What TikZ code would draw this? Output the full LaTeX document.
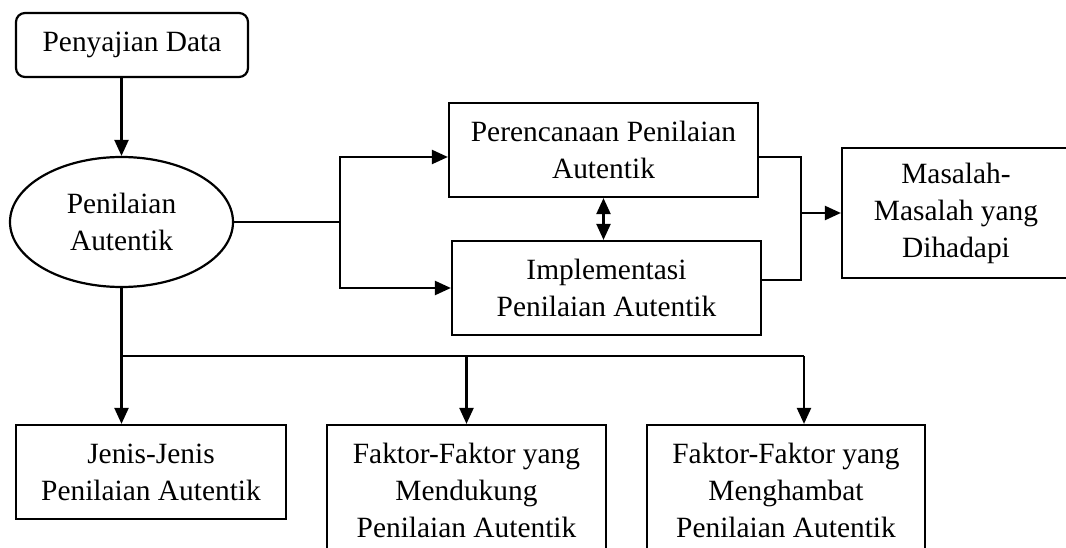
\documentclass[tikz,border=0pt]{standalone}
\usepackage{fontspec}
\setmainfont{Liberation Serif}
\usetikzlibrary{shapes.geometric, arrows.meta}

\begin{document}
\begin{tikzpicture}[x=1pt, y=-1pt, line width=2.2pt, >={Triangle[length=16pt, width=14pt]},
    every node/.style={draw, inner sep=0pt, align=center, font=\fontsize{29.4pt}{37pt}\selectfont},
    kotak/.style={rectangle, minimum width=#1, minimum height=94pt}]
            \useasboundingbox (0,0) rectangle (1066,548);
            \clip (0,0) rectangle (1066,548);
            \node [rectangle, rounded corners=9pt, minimum width=232pt, minimum height=64pt] (data) at (132,45) {Penyajian Data};
            \node [ellipse, minimum width=223pt, minimum height=130pt] (nilai) at (121.5,222) {Penilaian\\Autentik};
            \node [kotak=309pt] (rencana) at (603.5,150) {Perencanaan Penilaian\\Autentik};
            \node [kotak=309pt] (impl)    at (606.5,288) {Implementasi\\Penilaian Autentik};
            \node [rectangle, minimum width=228pt, minimum height=130pt] (masalah) at (956,213) {Masalah-\\Masalah yang\\Dihadapi};
            \node [kotak=270pt] (jenis) at (151,472) {Jenis-Jenis\\Penilaian Autentik};
            \node [rectangle, minimum width=279pt, minimum height=130pt] (dukung) at (466.5,490) {Faktor-Faktor yang\\Mendukung\\Penilaian Autentik};
            \node [rectangle, minimum width=278pt, minimum height=130pt] (hambat) at (786,490) {Faktor-Faktor yang\\Menghambat\\Penilaian Autentik};
            \coordinate (cabang) at (340,222);
            \coordinate (gabung) at (801,213);
            \coordinate (bawah)  at (121.5,356);
            \coordinate (ujung)  at (804,356);
            \draw [->] (data.south -| nilai.north) -- (nilai.north);
            \draw (nilai.east) -- (cabang);
            \draw [->] (cabang) |- ([yshift=-7pt]rencana.west);
            \draw [->] (cabang) |- (impl.west);
            \draw [<->] (rencana.south) -- (rencana.south |- impl.north);
            \draw ([yshift=-7pt]rencana.east) -| (gabung);
            \draw ([yshift=8pt]impl.east) -| (gabung);
            \draw [->] (gabung) -- (masalah.west);
            \draw (nilai.south) -- (bawah) -- (ujung);
            \draw [->] (bawah) -- (bawah |- jenis.north);
            \draw [->] (bawah -| dukung.north) -- (dukung.north);
            \draw [->] (ujung) -- (ujung |- hambat.north);
        \end{tikzpicture}
\end{document}
